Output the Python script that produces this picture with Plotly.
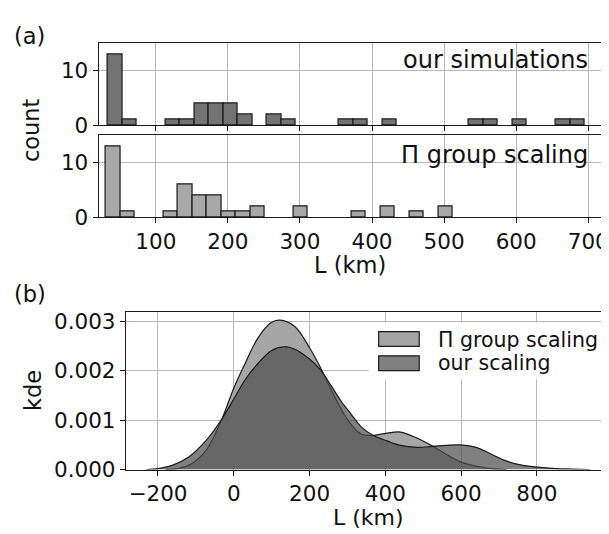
import plotly.graph_objects as go

W, H = 609, 534

# ---------------- data ----------------
bin_width = 20.05
sim_bin_start = 33.4
sim_counts = [13, 1, 0, 0, 1, 1, 4, 4, 4, 2, 0, 2, 1, 0, 0, 0, 1, 1, 0, 1, 0,
              0, 0, 0, 0, 1, 1, 0, 1, 0, 0, 1, 1]
pi_bin_start = 30.6
pi_counts = [13, 1, 0, 0, 1, 6, 4, 4, 1, 1, 2, 0, 0, 2, 0, 0, 0, 1, 0, 2, 0,
             1, 0, 2]

kde_our_L = [-231, -200, -161, -118, -74, -31, 0, 30, 64, 99, 134, 161, 200,
             230, 257, 283, 309, 336, 366, 405, 440, 483, 526, 560, 600, 640,
             680, 717, 760, 800, 850, 891, 940]
kde_our = [0.0, 0.00002, 0.00009, 0.00026, 0.00058, 0.00103, 0.00143,
           0.00182, 0.00215, 0.00241, 0.00249, 0.00244, 0.00224, 0.00201,
           0.00170, 0.00139, 0.00113, 0.00087, 0.00070, 0.00058, 0.00049,
           0.00045, 0.00047, 0.00049, 0.00050, 0.00045, 0.00031, 0.00018,
           0.00009, 0.00005, 0.00002, 0.00001, 0.0]

kde_pi_L = [-180, -150, -118, -74, -31, 0, 30, 64, 99, 121, 161, 200, 230,
            257, 283, 309, 336, 366, 405, 440, 483, 526, 560, 600, 640, 680,
            720]
kde_pi = [0.0, 0.00002, 0.00009, 0.00038, 0.00103, 0.00165, 0.00215,
          0.00267, 0.00298, 0.00303, 0.00290, 0.00247, 0.00205, 0.00162,
          0.00123, 0.00092, 0.00072, 0.00069, 0.00074, 0.00076, 0.00064,
          0.00047, 0.00031, 0.00015, 0.00007, 0.00002, 0.0]

hist_xticks = [100, 200, 300, 400, 500, 600, 700]
kde_xticks = [-200, 0, 200, 400, 600, 800]
kde_xticklabels = ["\u2212200", "0", "200", "400", "600", "800"]
kde_yticks = [0.0, 0.001, 0.002, 0.003]
kde_yticklabels = ["0.000", "0.001", "0.002", "0.003"]

label_sim = "our simulations"
label_pi = "Π group scaling"
label_our = "our scaling"

# ---------------- styling ----------------
FONT = "DejaVu Sans"
TXT = "#111111"
GRID = "#b8b8b8"
EDGE = "#1a1a1a"
TOP_BAR = "#737373"
BOT_BAR = "#a8a8a8"
PI_FILL = "#a6a6a6"
OUR_FILL = "rgba(79,79,79,0.72)"
TICK_FS = 21.5


def px(x):
    return x / W


def py(y):
    return 1 - y / H


def bars(start, counts):
    xs, ys = [], []
    for i, c in enumerate(counts):
        if c > 0:
            xs.append(start + (i + 0.5) * bin_width)
            ys.append(c)
    return xs, ys


fig = go.Figure()

sx, sy = bars(sim_bin_start, sim_counts)
fig.add_trace(go.Bar(x=sx, y=sy, width=bin_width, marker=dict(
    color=TOP_BAR, line=dict(color=EDGE, width=1.2)),
    xaxis="x", yaxis="y", showlegend=False))

bx, by = bars(pi_bin_start, pi_counts)
fig.add_trace(go.Bar(x=bx, y=by, width=bin_width, marker=dict(
    color=BOT_BAR, line=dict(color=EDGE, width=1.2)),
    xaxis="x2", yaxis="y2", showlegend=False))

fig.add_trace(go.Scatter(x=kde_pi_L, y=kde_pi, mode="lines",
                         line=dict(color=EDGE, width=1.2, shape="spline",
                                   smoothing=1.0),
                         fill="tozeroy", fillcolor=PI_FILL,
                         xaxis="x3", yaxis="y3", name=label_pi,
                         showlegend=False))
fig.add_trace(go.Scatter(x=kde_our_L, y=kde_our, mode="lines",
                         line=dict(color=EDGE, width=1.2, shape="spline",
                                   smoothing=1.0),
                         fill="tozeroy", fillcolor=OUR_FILL,
                         xaxis="x3", yaxis="y3", name=label_our,
                         showlegend=False))

common_axis = dict(showline=True, linecolor=EDGE, linewidth=1.2,
                   ticks="outside", ticklen=5, tickwidth=1.2, tickcolor=EDGE,
                   showgrid=True, gridcolor=GRID, gridwidth=1,
                   zeroline=False, ticklabeloverflow="allow",
                   tickfont=dict(family=FONT, size=TICK_FS, color=TXT))

hist_x_dom = [px(91.7), px(600.7)]
hist_x_range = [20.7, 718.8]

fig.update_layout(
    width=W, height=H,
    margin=dict(l=0, r=0, t=0, b=0),
    paper_bgcolor="white", plot_bgcolor="white",
    bargap=0,
    xaxis=dict(domain=hist_x_dom, range=hist_x_range, anchor="y",
               tickvals=hist_xticks, showticklabels=False, mirror=True,
               **common_axis),
    yaxis=dict(domain=[py(117.7), py(33.5)], range=[0, 15], anchor="x",
               tickvals=[0, 10], mirror=True, **common_axis),
    xaxis2=dict(domain=hist_x_dom, range=hist_x_range, anchor="y2",
                tickvals=hist_xticks, mirror=True, **common_axis),
    yaxis2=dict(domain=[py(212.7), py(128.3)], range=[0, 15], anchor="x2",
                tickvals=[0, 10], mirror=True, **common_axis),
    xaxis3=dict(domain=[px(119.3), 1.0], range=[-284.6, 993], anchor="y3",
                tickvals=kde_xticks, ticktext=kde_xticklabels,
                mirror=True, **common_axis),
    yaxis3=dict(domain=[py(472.7), py(310.5)], range=[0, 0.00319],
                anchor="x3", tickvals=kde_yticks, ticktext=kde_yticklabels,
                mirror=False, **common_axis),
)

# legend (custom, matplotlib-like)
shapes = [
    dict(type="rect", xref="paper", yref="paper", layer="above",
         x0=px(365), x1=px(601), y0=py(380), y1=py(321),
         fillcolor="white", line=dict(width=0)),
    dict(type="rect", xref="paper", yref="paper", layer="above",
         x0=px(375), x1=px(416), y0=py(345.7), y1=py(330.5),
         fillcolor=PI_FILL, line=dict(color=EDGE, width=1.2)),
    dict(type="rect", xref="paper", yref="paper", layer="above",
         x0=px(375), x1=px(416), y0=py(370.7), y1=py(355.5),
         fillcolor="#808080", line=dict(color=EDGE, width=1.2)),
]
fig.update_layout(shapes=shapes)

ann = []


def text(s, x, y, size, xanchor="center", yanchor="middle", angle=0):
    ann.append(dict(text=s, x=px(x), y=py(y), xref="paper", yref="paper",
                    showarrow=False, xanchor=xanchor, yanchor=yanchor,
                    textangle=angle,
                    font=dict(family=FONT, size=size, color=TXT)))


text("(a)", 22, 26, 22.5)
text("(b)", 22, 292, 22.5)
text("count", 24, 123, 22.5, angle=-90)
text("L (km)", 346, 262, 22.5)
text("kde", 26, 391, 22.5, angle=-90)
text("L (km)", 365, 522.5, 22)
text(label_sim, 589, 51, 24, xanchor="right")
text(label_pi, 589, 148, 24, xanchor="right")
text(label_pi, 433, 339, 20.5, xanchor="left")
text(label_our, 433, 363, 20.5, xanchor="left")
fig.update_layout(annotations=ann)

fig.write_html("out.html")
